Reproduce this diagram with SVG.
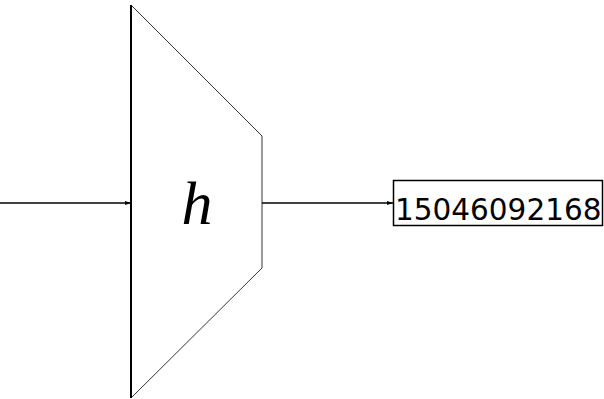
<svg xmlns="http://www.w3.org/2000/svg" width="604" height="399" viewBox="0 0 604 399">
<style>
.edge{stroke:#000;stroke-width:1.5;fill:none}
.lbl{font-family:"DejaVu Sans",sans-serif;font-size:29.5px;fill:#000}
.math{font-family:"Liberation Serif",serif;font-style:italic;font-size:62px;fill:#000}
</style>
<defs>
<marker id="ah" viewBox="0 0 6 4" refX="6" refY="2" markerWidth="6" markerHeight="4" markerUnits="userSpaceOnUse" orient="auto">
<path d="M0,0 L6,2 L0,4 Z" fill="#000"/>
</marker>
</defs>
<g id="connectors">
<line class="edge" x1="0" y1="203" x2="131" y2="203" marker-end="url(#ah)"/>
<line class="edge" x1="262" y1="203" x2="393" y2="203" marker-end="url(#ah)"/>
</g>
<g id="hash">
<path d="M131,5 L262,136 L262,268 L131,398 Z" fill="none" stroke="#000" stroke-width="0.8"/>
<line x1="131" y1="5" x2="131" y2="398" stroke="#000" stroke-width="2"/>
<text class="math" x="197" y="224" text-anchor="middle">h</text>
</g>
<g id="output">
<rect x="393.5" y="180.5" width="209" height="45" fill="none" stroke="#000" stroke-width="1.5"/>
<text class="lbl" x="395" y="220">15046092168</text>
</g>
</svg>
